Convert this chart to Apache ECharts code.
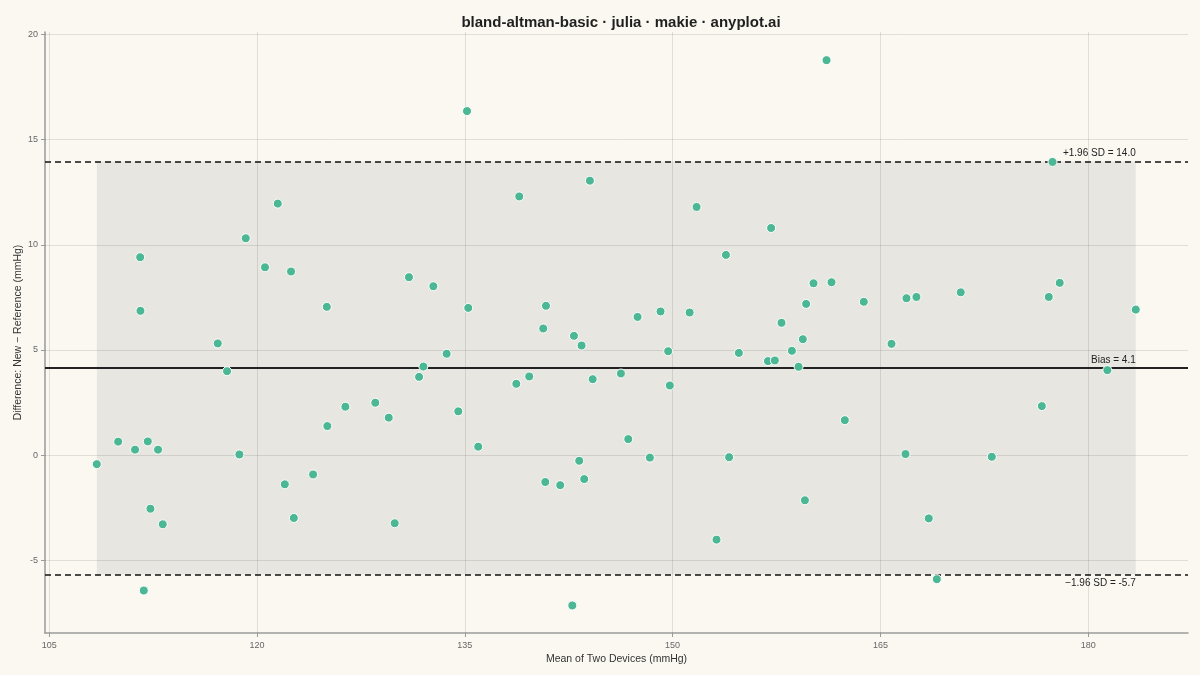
<!DOCTYPE html>
<html>
<head>
<meta charset="utf-8">
<title>bland-altman-basic</title>
<script src="https://cdn.jsdelivr.net/npm/echarts@6/dist/echarts.min.js"></script>
<style>
  html, body { margin: 0; padding: 0; background: #FAF8F1; }
  #chart { width: 1200px; height: 675px; }
</style>
</head>
<body>
<div id="chart"></div>
<script>
// means of the two devices (mmHg)
var meanValues = [
  108.44, 109.98, 111.20, 111.57, 111.59, 111.83, 112.12, 112.31, 112.86, 113.20,
  117.17, 117.84, 118.73, 119.19, 120.58, 121.50, 122.01, 122.46, 122.66, 124.05,
  125.04, 125.08, 126.38, 128.54, 129.51, 129.94, 130.97, 131.70, 132.01, 132.73,
  133.69, 134.53, 135.16, 135.25, 135.97, 138.72, 138.93, 139.65, 140.81, 141.89,
  142.76, 143.26, 143.62, 144.03, 144.23, 146.27, 146.80, 148.36, 149.80, 153.17,
  154.08, 140.86, 140.66, 142.88, 143.43, 147.47, 149.13, 151.23, 149.68, 151.73,
  153.85, 154.78, 157.11, 156.88, 157.38, 157.86, 158.61, 159.09, 159.40, 159.55,
  159.64, 160.17, 161.11, 161.47, 162.43, 163.80, 165.80, 166.81, 166.88, 167.60,
  168.49, 169.07, 170.80, 173.04, 176.65, 177.15, 177.42, 177.94, 181.38, 183.43
];
// difference new - reference (mmHg)
var diffValues = [
  -0.43, 0.64, 0.26, 9.41, 6.86, -6.44, 0.65, -2.55, 0.26, -3.29,
  5.31, 3.99, 0.03, 10.31, 8.93, 11.96, -1.39, 8.73, -2.99, -0.92,
  7.05, 1.38, 2.30, 2.49, 1.78, -3.24, 8.46, 3.72, 4.21, 8.03,
  4.82, 2.08, 16.36, 7.00, 0.40, 3.39, 12.30, 3.74, -1.28, -1.43,
  -7.15, -0.27, -1.14, 13.05, 3.61, 3.88, 0.76, -0.12, 3.31, -4.02,
  -0.10, 7.10, 6.02, 5.67, 5.21, 6.57, 6.83, 6.78, 4.94, 11.80,
  9.52, 4.86, 10.80, 4.47, 4.50, 6.29, 4.96, 4.20, 5.51, -2.15,
  7.19, 8.17, 18.78, 8.22, 1.66, 7.29, 5.29, 0.05, 7.46, 7.52,
  -3.01, -5.90, 7.74, -0.08, 2.33, 7.52, 13.94, 8.19, 4.04, 6.92
];

var biasValue = 4.13;
var upperLoa = 13.96;
var lowerLoa = -5.68;

var xTicks = [105, 120, 135, 150, 165, 180];
var yTicks = [-5, 0, 5, 10, 15, 20];

var fontFamily = 'Liberation Sans, Arial, Helvetica, sans-serif';

window.onload = function() {
    drawChart();
}

function drawChart() {
    var points = meanValues.map(function(m, i) { return [m, diffValues[i]]; });
    var xLo = Math.min.apply(null, meanValues);
    var xHi = Math.max.apply(null, meanValues);

    // gridlines drawn as mark lines so they sit exactly on the tick values
    var gridLines = xTicks.map(function(v) { return { xAxis: v }; })
        .concat(yTicks.map(function(v) { return { yAxis: v }; }));

    var option = {
        backgroundColor: '#FAF8F1',
        animation: false,
        textStyle: { fontFamily: fontFamily },
        title: {
            text: 'bland-altman-basic · julia · makie · anyplot.ai',
            left: 616,
            top: 10,
            textAlign: 'center',
            textStyle: { fontSize: 15, fontWeight: 'bold', color: '#1f1f1f', fontFamily: fontFamily }
        },
        grid: { left: 45, right: 12, top: 32, bottom: 42, containLabel: false, outerBoundsMode: 'none' },
        xAxis: {
            type: 'value',
            min: 104.7,
            max: 187.2,
            name: 'Mean of Two Devices (mmHg)',
            nameLocation: 'middle',
            nameGap: 21,
            nameMoveOverlap: false,
            nameTextStyle: { fontSize: 10.5, color: '#333' },
            axisLine: { show: true, onZero: false, lineStyle: { color: '#9a9a9a', width: 1.5 } },
            axisTick: { show: true, length: 4, customValues: xTicks, lineStyle: { color: '#9a9a9a' } },
            axisLabel: { customValues: xTicks, fontSize: 9, color: '#666', margin: 8 },
            splitLine: { show: false }
        },
        yAxis: {
            type: 'value',
            min: -8.46,
            max: 20.12,
            name: 'Difference: New \u2212 Reference (mmHg)',
            nameLocation: 'middle',
            nameGap: 21,
            nameMoveOverlap: false,
            nameTextStyle: { fontSize: 10.5, color: '#333' },
            axisLine: { show: true, onZero: false, lineStyle: { color: '#9a9a9a', width: 1.5 } },
            axisTick: { show: true, length: 4, customValues: yTicks, lineStyle: { color: '#9a9a9a' } },
            axisLabel: { customValues: yTicks, fontSize: 9, color: '#666', margin: 7 },
            splitLine: { show: false }
        },
        series: [
            {
                name: 'band',
                type: 'line',
                data: [],
                silent: true,
                z: 1,
                markArea: {
                    silent: true,
                    itemStyle: { color: 'rgba(0,0,0,0.07)' },
                    data: [[{ coord: [xLo, upperLoa] }, { coord: [xHi, lowerLoa] }]]
                }
            },
            {
                name: 'grid',
                type: 'line',
                data: [],
                silent: true,
                z: 2,
                markLine: {
                    silent: true,
                    symbol: ['none', 'none'],
                    label: { show: false },
                    lineStyle: { color: 'rgba(0,0,0,0.1)', type: 'solid', width: 1 },
                    data: gridLines
                }
            },
            {
                name: 'limits',
                type: 'line',
                data: [],
                silent: true,
                z: 3,
                markLine: {
                    silent: true,
                    symbol: ['none', 'none'],
                    label: { show: false },
                    data: [
                        { yAxis: upperLoa, lineStyle: { color: '#111', type: [6, 4], width: 1.5 } },
                        { yAxis: lowerLoa, lineStyle: { color: '#111', type: [6, 4], width: 1.5 } },
                        { yAxis: biasValue, lineStyle: { color: '#222', type: 'solid', width: 2 } }
                    ]
                },
                markPoint: {
                    silent: true,
                    symbol: 'circle',
                    symbolSize: 0,
                    label: { show: true, fontSize: 10, color: '#222', align: 'right' },
                    data: [
                        { coord: [xHi, upperLoa], label: { formatter: '+1.96 SD = ' + upperLoa.toFixed(1), position: [0, -3], verticalAlign: 'bottom' } },
                        { coord: [xHi, biasValue], label: { formatter: 'Bias = ' + biasValue.toFixed(1), position: [0, -3], verticalAlign: 'bottom' } },
                        { coord: [xHi, lowerLoa], label: { formatter: '\u22121.96 SD = ' + lowerLoa.toFixed(1), position: [0, 4], verticalAlign: 'top' } }
                    ]
                }
            },
            {
                name: 'measurements',
                type: 'scatter',
                data: points,
                z: 5,
                symbolSize: 9,
                itemStyle: { color: '#4CB794', borderColor: '#ffffff', borderWidth: 1, opacity: 1 }
            }
        ]
    };

    var chart = echarts.init(document.getElementById('chart'));
    chart.setOption(option);
}
</script>
</body>
</html>
